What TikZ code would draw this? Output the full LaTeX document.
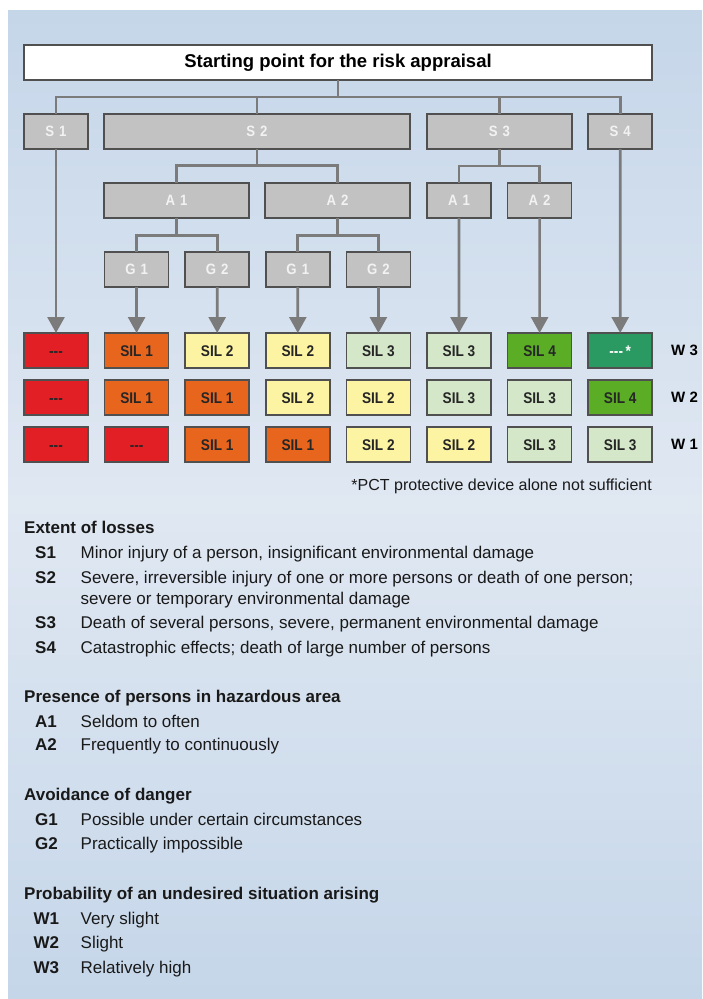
\documentclass[tikz,border=0pt]{standalone}
\usepackage{fontspec}
\setmainfont{Liberation Sans}
\newfontfamily\narrowfont[FakeStretch=0.88]{Liberation Sans}
\usepackage{xcolor}
\usetikzlibrary{arrows.meta}

\definecolor{bgtop}{HTML}{C5D6E9}
\definecolor{bgmid}{HTML}{E0E8F2}
\definecolor{boxgrey}{HTML}{C2C2C2}
\definecolor{boxborder}{HTML}{505050}
\definecolor{boxtext}{HTML}{F2F2F2}
\definecolor{linegrey}{HTML}{7B7B7B}
\definecolor{celltext}{HTML}{262626}
\definecolor{silred}{HTML}{E31F26}
\definecolor{silorange}{HTML}{E8651E}
\definecolor{silyellow}{HTML}{FCF4A3}
\definecolor{sillight}{HTML}{D4E7C8}
\definecolor{silgreen}{HTML}{5BAD25}
\definecolor{sildark}{HTML}{2B9A62}

\newcommand{\nosil}{-{}-{}-}

\begin{document}
\begin{tikzpicture}[
    x=1pt, y=-1pt,
    % Stili comuni per riquadri, collegamenti e legenda.
    conn/.style={draw=linegrey, line width=2.7pt},
    down arrow/.style={conn, -{Triangle[width=17pt, length=16pt]}},
    box/.style={draw=boxborder, line width=1.6pt, fill=boxgrey, text=boxtext,
        minimum height=35pt, inner sep=0pt, outer sep=0pt,
        font=\narrowfont\bfseries\fontsize{15}{15}\selectfont},
    title box/.style={box, fill=white, text=black, minimum width=628pt,
        font=\bfseries\fontsize{18.5}{20}\selectfont},
    cell/.style={draw=boxborder, line width=1.6pt, text=celltext,
        minimum width=64pt, minimum height=35pt, inner sep=0pt, outer sep=0pt,
        text height=11pt, text depth=0pt,
        font=\narrowfont\bfseries\fontsize{15.5}{15.5}\selectfont},
    wlabel/.style={anchor=west, inner sep=0pt, text=black,
        font=\bfseries\fontsize{15}{15}\selectfont},
    legend head/.style={anchor=base west, inner sep=0pt, text=black!90,
        font=\bfseries\fontsize{17}{20}\selectfont},
    legend code/.style={legend head},
    legend text/.style={anchor=base west, inner sep=0pt, text=black!90,
        font=\fontsize{17}{20}\selectfont}
]
% Sfondo con sfumatura verticale.
\useasboundingbox (0,0) rectangle (702,999);
\fill[white] (0,0) rectangle (702,999);
\shade[top color=bgtop, bottom color=bgtop, middle color=bgmid] (8,10) rectangle (702,998);

% Albero: punto di partenza, S, A, G.
\node[title box] (title) at (338, 62.5) {Starting point for the risk appraisal};

\node[box, minimum width=64pt]  (S1) at (56, 131.5)    {S\,\,1};
\node[box, minimum width=306pt] (S2) at (257, 131.5)   {S\,\,2};
\node[box, minimum width=145pt] (S3) at (499.5, 131.5) {S\,\,3};
\node[box, minimum width=64pt]  (S4) at (620.2, 131.5) {S\,\,4};

\node[box, minimum width=145pt] (A1) at (176.5, 200.5) {A\,\,1};
\node[box, minimum width=145pt] (A2) at (337.5, 200.5) {A\,\,2};
\node[box, minimum width=64pt]  (B1) at (459, 200.5)   {A\,\,1};
\node[box, minimum width=64pt]  (B2) at (539.6, 200.5) {A\,\,2};

\node[box, minimum width=64pt] (G1) at (136.6, 269.5) {G\,\,1};
\node[box, minimum width=64pt] (G2) at (217.2, 269.5) {G\,\,2};
\node[box, minimum width=64pt] (G3) at (297.8, 269.5) {G\,\,1};
\node[box, minimum width=64pt] (G4) at (378.4, 269.5) {G\,\,2};

% Collegamenti ortogonali fra i livelli.
\coordinate (top bus) at (338, 97);
\foreach \s in {S1,S2,S3,S4}
    \draw[conn] (title.south) -- (top bus) -| (\s.north);
\foreach \a in {A1,A2}
    \draw[conn] (S2.south) -- ++(0,16.5) -| (\a.north);
\foreach \a in {B1,B2}
    \draw[conn] (S3.south) -- ++(0,17) -| (\a.north);
\foreach \g in {G1,G2}
    \draw[conn] (A1.south) -- ++(0,17.5) -| (\g.north);
\foreach \g in {G3,G4}
    \draw[conn] (A2.south) -- ++(0,17.5) -| (\g.north);

% Tabella SIL, righe W3, W2, W1.
\foreach \fc/\tc/\tx [count=\i] in {silred/celltext/\nosil, silorange/celltext/SIL 1,
        silyellow/celltext/SIL 2, silyellow/celltext/SIL 2, sillight/celltext/SIL 3,
        sillight/celltext/SIL 3, silgreen/celltext/SIL 4, sildark/white/\nosil\,*}
    \node[cell, fill=\fc, text=\tc] (w3c\i) at ({56+80.6*(\i-1)}, 350.5) {\tx};
\foreach \fc/\tx [count=\i] in {silred/\nosil, silorange/SIL 1, silorange/SIL 1,
        silyellow/SIL 2, silyellow/SIL 2, sillight/SIL 3, sillight/SIL 3, silgreen/SIL 4}
    \node[cell, fill=\fc] (w2c\i) at ({56+80.6*(\i-1)}, 397.5) {\tx};
\foreach \fc/\tx [count=\i] in {silred/\nosil, silred/\nosil, silorange/SIL 1,
        silorange/SIL 1, silyellow/SIL 2, silyellow/SIL 2, sillight/SIL 3, sillight/SIL 3}
    \node[cell, fill=\fc] (w1c\i) at ({56+80.6*(\i-1)}, 444.5) {\tx};

\node[wlabel] (w3) at (671, 350.5) {W 3};
\node[wlabel] (w2) at (671, 397.5) {W 2};
\node[wlabel] (w1) at (671, 444.5) {W 1};

% Frecce verso la prima riga.
\draw[down arrow] (S1.south) -- (w3c1.north);
\draw[down arrow] (G1.south) -- (w3c2.north);
\draw[down arrow] (G2.south) -- (w3c3.north);
\draw[down arrow] (G3.south) -- (w3c4.north);
\draw[down arrow] (G4.south) -- (w3c5.north);
\draw[down arrow] (B1.south) -- (w3c6.north);
\draw[down arrow] (B2.south) -- (w3c7.north);
\draw[down arrow] (S4.south) -- (w3c8.north);

\node[anchor=base east, inner sep=0pt, text=black!90, font=\fontsize{16}{18}\selectfont]
    (note) at (652, 490) {*PCT protective device alone not sufficient};

% Legenda.
\node[legend head] (hS) at (24, 533) {Extent of losses};
\node[legend code] (cS1) at (35, 558) {S1};
\node[legend text] (tS1) at (80.5, 558) {Minor injury of a person, insignificant environmental damage};
\node[legend code] (cS2) at (35, 583) {S2};
\node[legend text] (tS2) at (80.5, 583) {Severe, irreversible injury of one or more persons or death of one person;};
\node[legend text] (tS2b) at (80.5, 604) {severe or temporary environmental damage};
\node[legend code] (cS3) at (35, 628) {S3};
\node[legend text] (tS3) at (80.5, 628) {Death of several persons, severe, permanent environmental damage};
\node[legend code] (cS4) at (35, 653) {S4};
\node[legend text] (tS4) at (80.5, 653) {Catastrophic effects; death of large number of persons};

\node[legend head] (hA) at (24, 702) {Presence of persons in hazardous area};
\node[legend code] (cA1) at (35, 727) {A1};
\node[legend text] (tA1) at (80.5, 727) {Seldom to often};
\node[legend code] (cA2) at (35, 750) {A2};
\node[legend text] (tA2) at (80.5, 750) {Frequently to continuously};

\node[legend head] (hG) at (24, 800) {Avoidance of danger};
\node[legend code] (cG1) at (35, 825) {G1};
\node[legend text] (tG1) at (80.5, 825) {Possible under certain circumstances};
\node[legend code] (cG2) at (35, 849) {G2};
\node[legend text] (tG2) at (80.5, 849) {Practically impossible};

\node[legend head] (hW) at (24, 899) {Probability of an undesired situation arising};
\node[legend code] (cW1) at (33.5, 924) {W1};
\node[legend text] (tW1) at (80.5, 924) {Very slight};
\node[legend code] (cW2) at (33.5, 948) {W2};
\node[legend text] (tW2) at (80.5, 948) {Slight};
\node[legend code] (cW3) at (33.5, 973) {W3};
\node[legend text] (tW3) at (80.5, 973) {Relatively high};
\end{tikzpicture}
\end{document}
